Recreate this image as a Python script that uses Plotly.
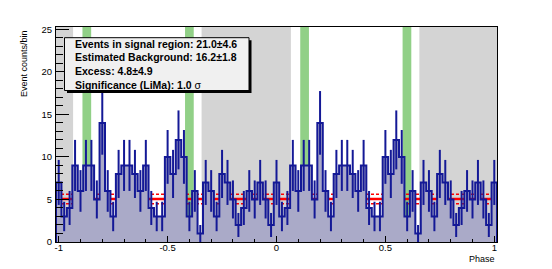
import numpy as np
import plotly.graph_objects as go

# ---------------- data ----------------
bin_width = 0.025
phase_centers = np.round(np.arange(-1.0, 1.0 + 1e-9, bin_width), 4)   # 81 bin centres, two cycles
counts = [
    7, 3, 4, 9, 6, 9, 9, 5, 14, 6, 3, 8, 9, 9, 8, 6, 9, 4, 3, 3,
    10, 8, 12, 10, 3, 6, 1, 7, 6, 3, 8, 7, 5, 2, 4, 6, 5, 7, 5, 2,
    7, 3, 4, 9, 6, 9, 9, 5, 14, 6, 3, 8, 9, 9, 8, 6, 9, 4, 3, 3,
    10, 8, 12, 10, 3, 6, 1, 7, 6, 3, 8, 7, 5, 2, 4, 6, 5, 7, 5, 2,
    7,
]
# background (off) regions and signal regions, in phase
off_lo = [-1.0125, -0.344, 0.656]
off_hi = [-0.934, 0.066, 1.0125]
sig_lo = [-0.891, -0.420, 0.109, 0.579]
sig_hi = [-0.851, -0.380, 0.149, 0.619]
bkg_level = 5.06
bkg_err = 0.56
x_range = [-1.0125, 1.0125]
y_range = [0, 25.27]
x_tickvals = [-1, -0.5, 0, 0.5, 1]
x_ticktext = ["-1", "-0.5", "0", "0.5", "1"]
box_lines = [
    "<b>Events in signal region: 21.0\u00b14.6</b>",
    "<b>Estimated Background: 16.2\u00b11.8</b>",
    "<b>Excess: 4.8\u00b14.9</b>",
    "<b>Significance (LiMa): 1.0 </b>\u03c3",
]

# ---------------- styling ----------------
W, H = 552, 269
L, R, T, B = 56, 55, 27, 27
PW, PH = W - L - R, H - T - B
FONT = "Liberation Sans, Arial, Helvetica, sans-serif"
LINE_C = "rgb(20,25,150)"
FILL_C = "rgb(170,170,200)"
GREY_C = "rgb(212,212,212)"
GREEN_C = "rgb(145,208,135)"


def px(xp):
    return (xp - L) / PW


def py(yp):
    return (H - B - yp) / PH


fig = go.Figure()

# red background level lines (drawn first, below the histogram fill)
for lvl, width, dash in [(bkg_level + bkg_err, 1.5, "3px,2px"),
                         (bkg_level - bkg_err, 1.5, "3px,2px"),
                         (bkg_level, 2.5, "solid")]:
    fig.add_trace(go.Scatter(x=x_range, y=[lvl, lvl], mode="lines",
                             line=dict(color="red", width=width, dash=dash),
                             hoverinfo="skip", showlegend=False))

# histogram outline + fill
c = np.asarray(counts, dtype=float)
edges_lo = phase_centers - bin_width / 2
edges_hi = phase_centers + bin_width / 2
xs = [edges_lo[0]]
ys = [0.0]
for lo, hi, v in zip(edges_lo, edges_hi, c):
    xs += [lo, hi]
    ys += [v, v]
xs.append(edges_hi[-1])
ys.append(0.0)
fig.add_trace(go.Scatter(x=xs, y=ys, mode="lines", fill="tozeroy",
                         fillcolor=FILL_C, line=dict(color=LINE_C, width=2),
                         hoverinfo="skip", showlegend=False))

# error bars sqrt(N)
fig.add_trace(go.Scatter(x=phase_centers, y=c, mode="markers",
                         marker=dict(size=0.1, color=LINE_C),
                         error_y=dict(type="data", array=np.sqrt(c), width=0,
                                      thickness=2, color=LINE_C),
                         hoverinfo="skip", showlegend=False))

shapes = []
for a, b in zip(off_lo, off_hi):
    shapes.append(dict(type="rect", xref="x", yref="paper", x0=a, x1=b, y0=0, y1=1,
                       fillcolor=GREY_C, line=dict(width=0), layer="below"))
for a, b in zip(sig_lo, sig_hi):
    shapes.append(dict(type="rect", xref="x", yref="paper", x0=a, x1=b, y0=0, y1=1,
                       fillcolor=GREEN_C, line=dict(width=0), layer="below"))

# info box with shadow
bx0, by0, bx1, by1 = 64.5, 37.7, 249.0, 90.5
sh = 2.5
shapes.append(dict(type="rect", xref="paper", yref="paper",
                   x0=px(bx0 + sh), x1=px(bx1 + sh), y0=py(by1 + sh), y1=py(by0 + sh),
                   fillcolor="black", line=dict(width=0), layer="above"))
shapes.append(dict(type="rect", xref="paper", yref="paper",
                   x0=px(bx0), x1=px(bx1), y0=py(by1), y1=py(by0),
                   fillcolor="rgb(240,240,240)", line=dict(color="black", width=1),
                   layer="above"))

annotations = []
for i, txt in enumerate(box_lines):
    annotations.append(dict(text=txt, xref="paper", yref="paper",
                            x=px(72.5), y=py(44.0 + 13.5 * i),
                            xanchor="left", yanchor="middle", showarrow=False,
                            font=dict(family=FONT, size=10.5, color="black")))
annotations.append(dict(text="Event counts/bin", xref="paper", yref="paper",
                        x=px(23.5), y=py(28), xanchor="center", yanchor="top",
                        textangle=-90, showarrow=False,
                        font=dict(family=FONT, size=9, color="black")))
annotations.append(dict(text="Phase", xref="paper", yref="paper",
                        x=px(496.5), y=py(258.5), xanchor="right", yanchor="middle",
                        showarrow=False, font=dict(family=FONT, size=9, color="black")))

fig.update_layout(
    width=W, height=H,
    margin=dict(l=L, r=R, t=T, b=B, pad=0, autoexpand=False),
    paper_bgcolor="white", plot_bgcolor="white",
    showlegend=False,
    shapes=shapes, annotations=annotations,
    font=dict(family=FONT, size=9.5, color="black"),
    xaxis=dict(range=x_range, showgrid=False, zeroline=False, automargin=False,
               showline=True, mirror=True, linecolor="black", linewidth=1,
               ticks="inside", ticklen=6.5, tickcolor="black",
               tickvals=x_tickvals, ticktext=x_ticktext,
               ticklabelstandoff=-3,
               minor=dict(dtick=0.1, tick0=0, ticks="inside", ticklen=3.5,
                          tickcolor="black", showgrid=False),
               tickfont=dict(family=FONT, size=9.5)),
    yaxis=dict(range=y_range, showgrid=False, zeroline=False, automargin=False,
               showline=True, mirror=True, linecolor="black", linewidth=1,
               ticks="inside", ticklen=13, tickcolor="black",
               dtick=5, tick0=0, ticklabelstandoff=1,
               minor=dict(dtick=1, tick0=0, ticks="inside", ticklen=6.5,
                          tickcolor="black", showgrid=False),
               tickfont=dict(family=FONT, size=9.5)),
)

fig.write_html(
    "out.html",
    config={"displayModeBar": False, "staticPlot": True},
    post_script="document.body.style.margin='0px';"
                "document.documentElement.style.overflow='hidden';",
)
